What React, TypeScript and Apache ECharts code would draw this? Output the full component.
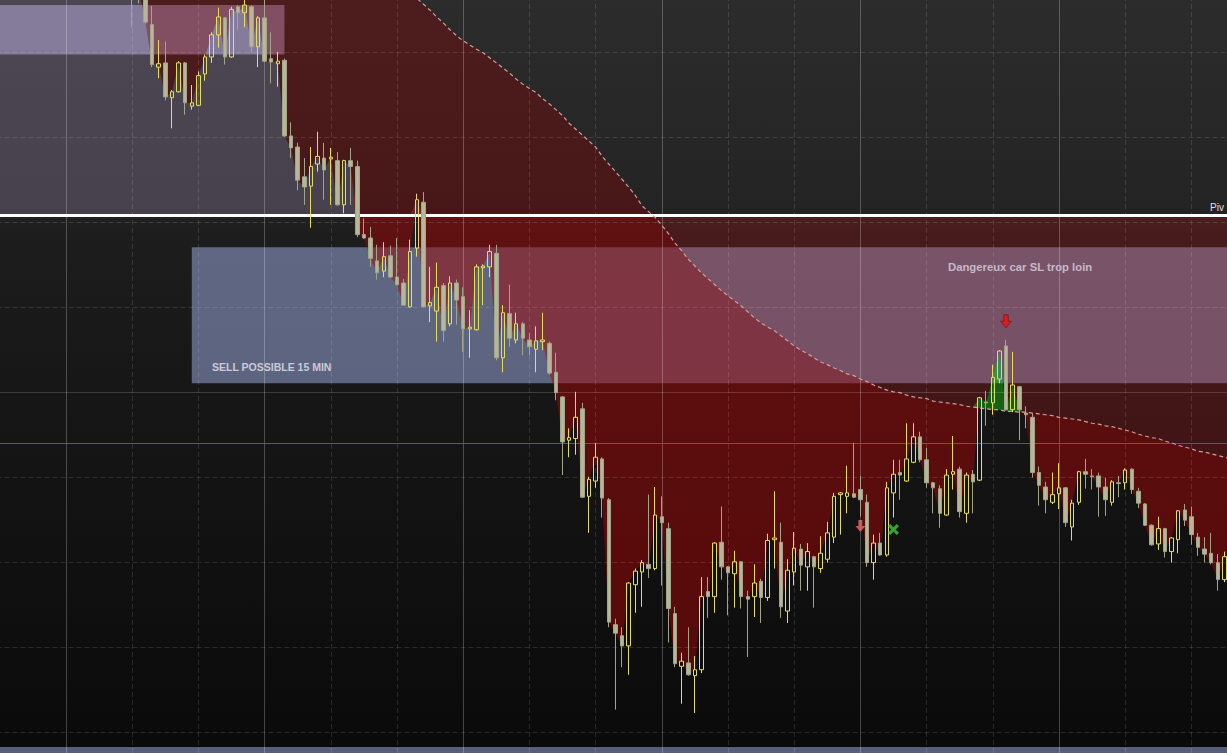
import React, { useEffect, useRef } from "react";
import * as echarts from "echarts";

// ---- candle data (price units) ----
const openPrices = [
  15352.4, 15353.8, 15355.1, 15354.0, 15352.6, 15353.9, 15355.6, 15354.8, 15353.1, 15351.9,
  15352.8, 15351.6, 15350.3, 15351.2, 15352.4, 15351.0, 15349.6, 15350.5, 15349.2, 15348.4,
  15349.4, 15348.2, 15346.7, 15343.2, 15338.2, 15338.7, 15334.6, 15335.3, 15338.7, 15333.6,
  15333.7, 15337.4, 15339.4, 15342.0, 15344.0, 15339.4, 15345.3, 15344.6, 15345.3, 15340.6,
  15344.0, 15339.2, 15338.6, 15339.0, 15330.1, 15328.8, 15325.3, 15324.2, 15326.8, 15327.5,
  15327.4, 15327.2, 15322.0, 15327.2, 15326.5, 15318.5, 15318.1, 15315.4, 15314.2, 15316.0,
  15313.5, 15312.8, 15310.0, 15316.9, 15322.3, 15310.1, 15309.5, 15312.5, 15308.0, 15312.8,
  15311.2, 15307.4, 15307.3, 15314.6, 15314.7, 15316.3, 15304.0, 15309.2, 15306.1, 15308.0,
  15306.1, 15305.0, 15305.9, 15305.7, 15302.3, 15299.4, 15294.3, 15294.5, 15298.0, 15287.7,
  15289.5, 15292.1, 15287.3, 15272.6, 15271.3, 15270.1, 15277.3, 15278.8, 15279.7, 15279.2,
  15285.3, 15283.9, 15273.9, 15267.7, 15268.1, 15266.6, 15267.3, 15276.5, 15275.9, 15282.3,
  15279.4, 15278.6, 15280.0, 15275.9, 15275.9, 15277.7, 15275.8, 15282.6, 15282.3, 15274.2,
  15278.8, 15281.5, 15279.4, 15280.6, 15279.2, 15280.3, 15282.9, 15287.9, 15287.7, 15288.0,
  15288.5, 15287.0, 15279.9, 15282.2, 15280.8, 15288.1, 15290.5, 15289.5, 15291.7, 15294.7,
  15292.0, 15289.3, 15288.6, 15285.5, 15290.3, 15290.9, 15285.7, 15290.3, 15289.6, 15298.8,
  15298.7, 15301.5, 15305.4, 15297.9, 15300.6, 15297.5, 15297.0, 15290.5, 15288.8, 15287.0,
  15288.0, 15288.7, 15284.1, 15287.0, 15290.6, 15290.1, 15290.1, 15288.8, 15287.0, 15289.3,
  15289.3, 15290.9, 15288.3, 15286.8, 15284.3, 15282.1, 15283.9, 15281.2, 15282.6, 15286.1,
  15285.3, 15282.9, 15281.5, 15281.0, 15279.9, 15277.9, 15280.6,
];
const closePrices = [
  15353.8, 15355.1, 15354.0, 15352.6, 15353.9, 15355.6, 15354.8, 15353.1, 15351.9, 15352.8,
  15351.6, 15350.3, 15351.2, 15352.4, 15351.0, 15349.6, 15350.5, 15349.2, 15348.4, 15349.4,
  15347.0, 15347.3, 15343.5, 15338.5, 15338.6, 15334.7, 15335.3, 15338.7, 15334.0, 15334.0,
  15337.2, 15339.4, 15342.0, 15344.1, 15339.4, 15345.0, 15344.6, 15345.5, 15340.6, 15344.0,
  15338.9, 15338.8, 15338.9, 15330.1, 15328.7, 15324.9, 15324.1, 15326.5, 15327.7, 15326.1,
  15327.6, 15322.0, 15327.2, 15326.5, 15318.5, 15318.1, 15315.7, 15314.0, 15315.9, 15313.5,
  15312.6, 15310.2, 15316.5, 15322.6, 15310.0, 15310.5, 15312.3, 15307.2, 15312.8, 15310.8,
  15307.4, 15307.6, 15314.7, 15314.8, 15316.5, 15304.0, 15309.3, 15306.3, 15308.0, 15306.3,
  15305.3, 15306.0, 15306.1, 15302.2, 15299.9, 15294.1, 15294.6, 15297.0, 15287.6, 15289.7,
  15292.3, 15287.5, 15272.9, 15271.6, 15270.1, 15277.5, 15278.9, 15279.9, 15279.2, 15285.5,
  15284.6, 15274.5, 15268.0, 15268.3, 15266.7, 15267.3, 15275.9, 15275.9, 15282.2, 15279.4,
  15278.7, 15280.0, 15275.9, 15275.6, 15277.5, 15275.8, 15282.5, 15282.8, 15274.7, 15279.0,
  15281.6, 15279.6, 15281.2, 15279.4, 15281.0, 15283.4, 15287.7, 15288.1, 15288.1, 15287.6,
  15287.3, 15279.9, 15282.2, 15280.8, 15288.7, 15290.3, 15290.2, 15292.1, 15294.7, 15292.0,
  15289.3, 15288.7, 15285.7, 15290.2, 15290.6, 15285.9, 15290.2, 15289.4, 15299.3, 15298.7,
  15301.7, 15304.8, 15297.9, 15300.8, 15297.9, 15297.3, 15290.5, 15289.0, 15287.3, 15287.9,
  15288.7, 15284.6, 15286.9, 15290.6, 15290.3, 15290.0, 15288.8, 15287.3, 15289.4, 15289.2,
  15290.8, 15288.5, 15286.9, 15284.3, 15282.0, 15283.9, 15281.2, 15282.8, 15286.0, 15284.9,
  15283.2, 15281.7, 15280.9, 15279.9, 15277.9, 15280.6, 15279.6,
];
const lowPrices = [
  15351.9, 15353.2, 15353.5, 15352.0, 15352.2, 15353.4, 15354.1, 15352.7, 15351.2, 15351.4,
  15351.0, 15349.8, 15349.9, 15350.8, 15350.5, 15349.1, 15348.9, 15348.6, 15347.8, 15347.6,
  15342.9, 15345.7, 15343.3, 15338.2, 15336.9, 15334.3, 15331.0, 15335.2, 15332.6, 15333.2,
  15333.6, 15336.6, 15338.7, 15340.5, 15338.5, 15339.3, 15342.6, 15342.9, 15339.9, 15338.2,
  15338.8, 15336.3, 15335.9, 15330.0, 15327.5, 15323.7, 15322.0, 15319.3, 15325.9, 15322.6,
  15322.0, 15321.9, 15321.0, 15322.0, 15318.2, 15318.0, 15314.7, 15313.2, 15313.5, 15313.4,
  15312.5, 15310.1, 15309.9, 15315.9, 15309.9, 15308.2, 15305.9, 15305.9, 15307.7, 15307.9,
  15304.7, 15304.0, 15307.2, 15310.2, 15313.5, 15303.7, 15302.3, 15305.3, 15305.7, 15304.3,
  15304.3, 15302.3, 15304.9, 15302.0, 15299.0, 15290.2, 15292.3, 15292.6, 15287.5, 15283.4,
  15288.7, 15285.2, 15272.3, 15262.6, 15267.6, 15266.7, 15274.0, 15274.7, 15278.1, 15279.0,
  15277.2, 15270.5, 15267.6, 15263.3, 15266.6, 15262.2, 15266.9, 15273.4, 15274.0, 15277.9,
  15273.7, 15274.6, 15274.5, 15268.8, 15273.5, 15272.8, 15275.4, 15279.2, 15273.4, 15272.8,
  15277.2, 15276.6, 15276.6, 15274.6, 15278.7, 15279.9, 15282.2, 15283.2, 15285.7, 15287.5,
  15285.3, 15279.4, 15277.9, 15280.7, 15280.6, 15285.2, 15287.3, 15289.4, 15291.6, 15291.7,
  15288.7, 15285.7, 15284.0, 15285.4, 15288.5, 15285.2, 15284.6, 15285.7, 15289.5, 15296.0,
  15297.3, 15301.0, 15297.8, 15297.6, 15294.3, 15295.7, 15289.9, 15286.6, 15285.7, 15286.8,
  15286.2, 15284.1, 15282.5, 15286.7, 15288.6, 15288.5, 15285.3, 15285.4, 15286.6, 15287.6,
  15288.5, 15288.0, 15286.3, 15284.2, 15281.9, 15281.4, 15280.5, 15279.9, 15281.0, 15284.2,
  15282.0, 15280.7, 15279.9, 15279.7, 15276.6, 15277.6, 15278.8,
];
const highPrices = [
  15354.6, 15355.9, 15356.2, 15354.5, 15354.8, 15356.3, 15356.5, 15355.2, 15353.6, 15353.3,
  15353.4, 15352.1, 15351.8, 15353.0, 15352.9, 15351.5, 15351.2, 15351.0, 15349.9, 15350.0,
  15350.8, 15349.0, 15347.0, 15345.4, 15341.4, 15341.2, 15335.5, 15338.9, 15338.8, 15336.1,
  15337.7, 15339.7, 15342.3, 15345.2, 15344.1, 15345.3, 15345.5, 15346.3, 15345.5, 15344.2,
  15346.5, 15342.3, 15340.0, 15339.2, 15331.7, 15329.3, 15327.5, 15328.8, 15330.6, 15329.3,
  15328.7, 15328.2, 15327.3, 15328.7, 15327.2, 15320.4, 15319.4, 15317.3, 15317.6, 15317.2,
  15318.1, 15313.3, 15317.9, 15323.3, 15323.5, 15314.7, 15315.2, 15312.8, 15313.6, 15313.2,
  15312.3, 15309.6, 15315.0, 15315.0, 15317.3, 15317.3, 15310.2, 15312.6, 15309.3, 15308.2,
  15306.9, 15307.7, 15309.3, 15305.9, 15304.6, 15299.5, 15295.7, 15300.0, 15298.7, 15290.0,
  15294.0, 15292.3, 15287.5, 15273.3, 15272.3, 15277.6, 15279.2, 15280.2, 15287.9, 15288.8,
  15287.7, 15284.6, 15274.7, 15269.3, 15272.3, 15268.9, 15278.2, 15278.2, 15282.3, 15286.5,
  15279.5, 15281.3, 15280.1, 15276.6, 15279.7, 15278.0, 15283.3, 15288.3, 15284.6, 15280.3,
  15283.5, 15282.1, 15282.2, 15280.7, 15283.0, 15284.7, 15288.1, 15288.2, 15291.3, 15294.0,
  15290.1, 15287.9, 15283.2, 15283.4, 15289.4, 15292.0, 15292.0, 15296.3, 15296.3, 15295.3,
  15293.4, 15289.4, 15289.0, 15290.9, 15294.8, 15291.2, 15290.5, 15290.8, 15299.4, 15300.1,
  15303.2, 15304.9, 15306.1, 15304.7, 15300.7, 15298.3, 15297.5, 15291.2, 15289.4, 15290.5,
  15291.6, 15288.8, 15287.3, 15290.7, 15292.1, 15290.9, 15290.5, 15289.9, 15289.6, 15290.1,
  15291.0, 15291.0, 15288.7, 15286.9, 15284.4, 15285.3, 15284.0, 15282.9, 15286.1, 15286.8,
  15286.5, 15283.4, 15282.9, 15283.4, 15280.9, 15281.2, 15281.4,
];
// dashed moving average
const maPrices = [
  15364.8, 15364.6, 15364.5, 15364.3, 15364.2, 15364.0, 15363.8, 15363.7, 15363.5, 15363.3,
  15363.2, 15363.0, 15362.8, 15362.7, 15362.5, 15362.3, 15362.2, 15362.0, 15361.8, 15361.7,
  15361.5, 15361.3, 15361.2, 15361.0, 15360.8, 15360.7, 15360.5, 15360.3, 15360.1, 15359.9,
  15359.7, 15359.5, 15359.3, 15359.1, 15358.9, 15358.7, 15358.5, 15358.3, 15358.1, 15357.9,
  15357.7, 15357.4, 15357.1, 15356.8, 15356.5, 15356.2, 15355.8, 15355.4, 15355.0, 15354.6,
  15354.2, 15353.7, 15353.2, 15352.7, 15352.2, 15351.6, 15351.0, 15350.4, 15349.8, 15349.1,
  15348.4, 15347.7, 15347.0, 15346.3, 15345.6, 15344.9, 15344.1, 15343.4, 15342.6, 15341.9,
  15341.3, 15340.8, 15340.3, 15339.9, 15339.3, 15338.7, 15338.1, 15337.5, 15336.8, 15336.2,
  15335.7, 15335.2, 15334.5, 15333.9, 15333.2, 15332.5, 15331.6, 15330.9, 15330.2, 15329.5,
  15328.8, 15327.7, 15326.8, 15325.9, 15325.0, 15324.1, 15323.1, 15321.9, 15321.2, 15320.5,
  15319.6, 15318.6, 15317.5, 15316.6, 15315.6, 15314.8, 15314.0, 15313.3, 15312.6, 15311.9,
  15311.3, 15310.7, 15310.1, 15309.4, 15308.7, 15308.1, 15307.6, 15307.2, 15306.6, 15306.0,
  15305.4, 15304.9, 15304.5, 15304.0, 15303.5, 15303.2, 15302.8, 15302.5, 15302.1, 15301.9,
  15301.5, 15301.2, 15300.8, 15300.5, 15300.2, 15300.0, 15299.9, 15299.6, 15299.4, 15299.3,
  15299.2, 15298.9, 15298.8, 15298.7, 15298.6, 15298.5, 15298.3, 15298.2, 15298.1, 15298.0,
  15297.9, 15297.9, 15297.7, 15297.7, 15297.6, 15297.6, 15297.5, 15297.4, 15297.3, 15297.2,
  15297.0, 15296.9, 15296.8, 15296.7, 15296.5, 15296.3, 15296.2, 15296.0, 15295.9, 15295.7,
  15295.5, 15295.3, 15295.0, 15294.8, 15294.6, 15294.5, 15294.2, 15294.0, 15293.7, 15293.5,
  15293.3, 15293.0, 15292.9, 15292.7, 15292.5, 15292.3, 15292.1,
];

// time labels of the 1-minute candles
const categories = openPrices.map((_, i) => {
  const t = 13 * 60 + 10 + i;
  const hh = String(Math.floor(t / 60)).padStart(2, "0");
  const mm = String(t % 60).padStart(2, "0");
  return `${hh}:${mm}`;
});

// levels and grid
const pivotPrice = 15320.8;
const redLevelPrice = 15294.0;
const roundLevelPrice = 15300;
const gridPrices = [15340, 15330, 15320, 15310, 15290, 15280, 15270, 15260];
const gridIndexes = [10, 20, 30, 40, 50, 60, 70, 80, 90, 100, 110, 120, 130, 140, 150, 160, 170, 180];
const majorGridIndexes = [10, 40, 70, 100, 130, 160];
const yMin = 15257.5;
const yMax = 15346.1;

// zones: [fromIndex, toIndex, highPrice, lowPrice]
const sellZone = [29, 186, 15317.0, 15301.0];
const topZone = [0, 43, 15345.5, 15339.7];
const bottomZone = [0, 186, 15258.2, 15257.5];

// signal markers: [index, price]
const redArrowPoints = [[152, 15308.3]];
const pinkArrowPoints = [[130, 15284.2]];
const greenCrossPoints = [[135, 15283.8]];

const ARROW = "path://M3,0L7,0L7,6L10,6L5,12L0,6L3,6Z";
const CROSS = "path://M0,2L2,0L5,3L8,0L10,2L7,5L10,8L8,10L5,7L2,10L0,8L3,5Z";

export default function App() {
  const ref = useRef<HTMLDivElement | null>(null);

  useEffect(() => {
    if (!ref.current) return;
    const chart = echarts.init(ref.current, null, { renderer: "svg" });

    const candles = openPrices.map((o, i) => [o, closePrices[i], lowPrices[i], highPrices[i]]);
    const pivotLine = closePrices.map(() => pivotPrice);
    const upBand = closePrices.map((c) => Math.max(c - pivotPrice, 0));
    const downBand = closePrices.map((c) => Math.max(pivotPrice - c, 0));
    const redBand = closePrices.map((c, i) => Math.max(maPrices[i] - c, 0));
    const greenBand = closePrices.map((c, i) => Math.max(c - maPrices[i], 0));

    const hidden = { opacity: 0, width: 0 };
    const fillSeries = (name: string, data: number[], stack: string, color?: string) => ({
      name,
      type: "line",
      data,
      stack,
      symbol: "none",
      smooth: false,
      lineStyle: hidden,
      areaStyle: color ? { color, opacity: 1 } : undefined,
      silent: true,
      z: 2,
    });

    const zone = (z: number[], color: string) => [
      { xAxis: categories[z[0]], yAxis: z[2], itemStyle: { color } },
      { xAxis: categories[z[1]], yAxis: z[3] },
    ];

    const dashed = { color: "rgba(255,255,255,0.12)", type: [5, 3], width: 1 };
    const solidV = { color: "rgba(255,255,255,0.24)", type: "solid", width: 1 };

    chart.setOption({
      animation: false,
      backgroundColor: "transparent",
      grid: {
        left: -3.5,
        right: -7.4,
        top: 0,
        bottom: 0,
        containLabel: false,
        outerBoundsMode: "none",
      },
      xAxis: {
        type: "category",
        data: categories,
        boundaryGap: true,
        show: false,
      },
      yAxis: {
        type: "value",
        min: yMin,
        max: yMax,
        show: false,
        splitLine: { show: false },
      },
      series: [
        {
          ...fillSeries("pivotBase", pivotLine, "up"),
          markArea: {
            silent: true,
            z: 1,
            data: [
              zone(sellZone, "rgba(162,178,232,0.5)"),
              zone(topZone, "rgba(193,184,238,0.55)"),
              zone(bottomZone, "rgba(162,178,232,0.5)"),
            ],
          },
        },
        fillSeries("aboveFill", upBand, "up", "rgba(153,137,173,0.3)"),
        fillSeries("closeBaseDown", closePrices, "down"),
        fillSeries("belowFill", downBand, "down", "rgba(198,22,22,0.25)"),
        fillSeries("closeBaseRed", closePrices, "red"),
        fillSeries("redFill", redBand, "red", "rgba(140,0,0,0.35)"),
        fillSeries("maBaseGreen", maPrices, "green"),
        fillSeries("greenFill", greenBand, "green", "rgba(20,190,20,0.45)"),
        {
          name: "MA",
          type: "line",
          data: maPrices,
          symbol: "none",
          smooth: false,
          silent: true,
          z: 6,
          lineStyle: { color: "#d29c9c", width: 1.2, type: [4, 3] },
          markLine: {
            silent: true,
            z: 5,
            symbol: ["none", "none"],
            label: { show: false },
            data: [
              ...gridPrices.map((p) => ({ yAxis: p, lineStyle: dashed })),
              ...gridIndexes.map((i) => ({
                xAxis: categories[i],
                lineStyle: majorGridIndexes.includes(i) ? solidV : dashed,
              })),
              { yAxis: roundLevelPrice, lineStyle: { color: "rgba(255,255,255,0.16)", type: "solid", width: 1 } },
              { yAxis: redLevelPrice, lineStyle: { color: "rgba(215,55,55,0.85)", type: "solid", width: 1 } },
              { yAxis: pivotPrice, lineStyle: { color: "#ffffff", type: "solid", width: 3 } },
            ],
          },
        },
        {
          name: "price",
          type: "candlestick",
          data: candles,
          barWidth: 4,
          z: 10,
          silent: true,
          itemStyle: {
            color: "rgba(0,0,0,0)",
            color0: "#b6b798",
            borderColor: "#e6de5a",
            borderColor0: "#a3a48a",
            borderWidth: 1,
          },
        },
        {
          name: "sellSignal",
          type: "scatter",
          z: 12,
          symbol: ARROW,
          symbolSize: [11, 13],
          itemStyle: { color: "#f51010", borderColor: "#5a0000", borderWidth: 0.6 },
          data: redArrowPoints.map((p) => [categories[p[0]], p[1]]),
        },
        {
          name: "weakSignal",
          type: "scatter",
          z: 12,
          symbol: ARROW,
          symbolSize: [10, 12],
          itemStyle: { color: "#f06868" },
          data: pinkArrowPoints.map((p) => [categories[p[0]], p[1]]),
        },
        {
          name: "exitSignal",
          type: "scatter",
          z: 12,
          symbol: CROSS,
          symbolSize: [11, 11],
          itemStyle: { color: "#3cc83c" },
          data: greenCrossPoints.map((p) => [categories[p[0]], p[1]]),
        },
      ],
      graphic: [
        {
          type: "text",
          left: 212,
          top: 361,
          z: 100,
          style: {
            text: "SELL POSSIBLE 15 MIN",
            fill: "#c9cbd8",
            font: 'bold 10.5px "Liberation Sans", Arial, sans-serif',
          },
        },
        {
          type: "text",
          left: 948,
          top: 261,
          z: 100,
          style: {
            text: "Dangereux car SL trop loin",
            fill: "#c6b9c8",
            font: 'bold 11.3px "Liberation Sans", Arial, sans-serif',
          },
        },
        {
          type: "text",
          left: 1210,
          top: 202,
          z: 100,
          style: {
            text: "Piv",
            fill: "#e0e0e0",
            font: '10px "Liberation Sans", Arial, sans-serif',
          },
        },
      ],
    });

    return () => chart.dispose();
  }, []);

  return (
    <div
      ref={ref}
      style={{
        position: "fixed",
        left: 0,
        top: 0,
        width: 1227,
        height: 753,
        background:
          "linear-gradient(to bottom, #2c2c2c 0px, #242424 205px, #1d1d1d 235px, #171717 380px, #0a0a0a 753px)",
      }}
    />
  );
}
